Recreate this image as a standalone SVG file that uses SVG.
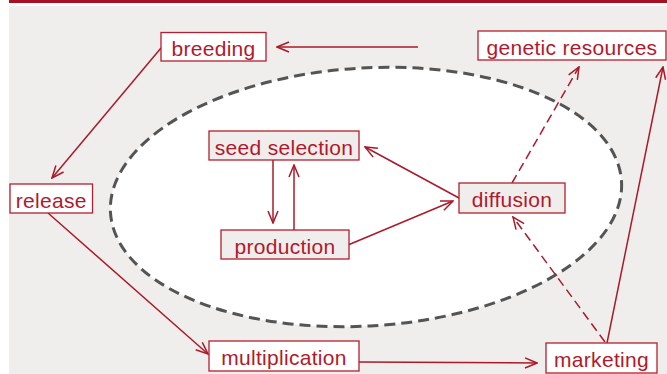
<svg xmlns="http://www.w3.org/2000/svg" width="667" height="374" viewBox="0 0 667 374">
  <style>
    .box-out { fill: #ffffff; stroke: #b3202f; stroke-width: 1.3; }
    .box-in { fill: #efeeec; stroke: #b3202f; stroke-width: 1.3; }
    .lbl { font-family: "Liberation Sans", Arial, sans-serif; font-size: 21px; fill: #b3182b; text-anchor: middle; letter-spacing: 0.3px; }
    .link { fill: none; stroke: #aa1a2a; stroke-width: 1.5; marker-end: url(#vhead); }
    .dash { stroke-dasharray: 9 5; }
  </style>
  <defs>
    <marker id="vhead" viewBox="0 0 14 12" refX="13" refY="6" markerWidth="14" markerHeight="12" markerUnits="userSpaceOnUse" orient="auto">
      <path d="M1,1 L13,6 L1,11" fill="none" stroke="#aa1a2a" stroke-width="1.5"/>
    </marker>
  </defs>

  <!-- page background and header rule -->
  <rect x="0" y="0" width="667" height="374" fill="#ffffff"/>
  <rect x="9" y="0" width="658" height="3" fill="#a8101f"/>
  <rect x="9" y="6" width="658" height="368" fill="#efeeec"/>

  <!-- community seed system boundary -->
  <ellipse cx="366" cy="197" rx="256" ry="129" transform="rotate(-3.5 366 197)" fill="#ffffff" stroke="#545454" stroke-width="3" stroke-dasharray="11 6"/>

  <g id="connectors">
    <line class="link" x1="418" y1="47" x2="277" y2="47"/>
    <line class="link" x1="161" y1="48" x2="52" y2="178"/>
    <line class="link" x1="48" y1="213" x2="208" y2="354"/>
    <line class="link" x1="359" y1="362" x2="537" y2="363"/>
    <line class="link" x1="607" y1="343" x2="663" y2="67"/>
    <line class="link dash" x1="605" y1="342" x2="513" y2="217"/>
    <line class="link dash" x1="512" y1="183" x2="579" y2="67"/>
    <line class="link" x1="459" y1="198" x2="365" y2="147"/>
    <line class="link" x1="348" y1="245" x2="453" y2="201"/>
    <line class="link" x1="273" y1="160" x2="273" y2="223"/>
    <line class="link" x1="294" y1="230" x2="294" y2="165"/>
  </g>

  <g id="breeding">
    <rect class="box-out" x="161" y="32.5" width="105" height="28.5"/>
    <text class="lbl" x="213.5" y="56">breeding</text>
  </g>
  <g id="genetic-resources">
    <rect class="box-out" x="478" y="31" width="188" height="29"/>
    <text class="lbl" x="572" y="55">genetic resources</text>
  </g>
  <g id="release">
    <rect class="box-out" x="10" y="184" width="82.5" height="29"/>
    <text class="lbl" x="51.3" y="208">release</text>
  </g>
  <g id="seed-selection">
    <rect class="box-in" x="209" y="131" width="150" height="29"/>
    <text class="lbl" x="284" y="155">seed selection</text>
  </g>
  <g id="production">
    <rect class="box-in" x="221" y="230" width="128" height="29"/>
    <text class="lbl" x="285" y="254">production</text>
  </g>
  <g id="diffusion">
    <rect class="box-in" x="459" y="183" width="106" height="30"/>
    <text class="lbl" x="512" y="207">diffusion</text>
  </g>
  <g id="multiplication">
    <rect class="box-out" x="209" y="341" width="150" height="30"/>
    <text class="lbl" x="284" y="365">multiplication</text>
  </g>
  <g id="marketing">
    <rect class="box-out" x="546" y="343" width="111" height="30"/>
    <text class="lbl" x="601.5" y="367">marketing</text>
  </g>
</svg>
